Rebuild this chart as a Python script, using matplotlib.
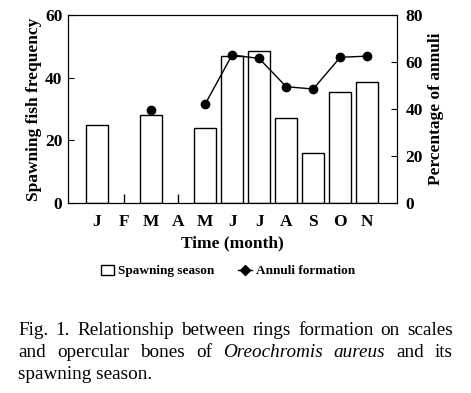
import numpy as np
import matplotlib.pyplot as plt
from matplotlib.lines import Line2D
from matplotlib.patches import Patch

months = ["J", "F", "M", "A", "M", "J", "J", "A", "S", "O", "N"]
spawning = [25, 3, 28, 3, 24, 47, 48.5, 27, 16, 35.5, 38.5]
bar_widths = [0.8, 0, 0.8, 0, 0.8, 0.8, 0.8, 0.8, 0.8, 0.8, 0.8]
annuli = [np.nan, np.nan, 39.5, np.nan, 42, 63, 61.5, 49.5, 48.5, 62, 62.5]

caption = [
    ("Fig. 1. Relationship between rings formation on scales", None),
    ("and opercular bones of", "Oreochromis aureus", "and its"),
    ("spawning season.",),
]

plt.rcParams["font.family"] = ["Liberation Serif", "DejaVu Serif"]

fig = plt.figure(figsize=(4.71, 3.93), dpi=100)
ax = fig.add_axes([68 / 471, 1 - 203 / 393, (397 - 68) / 471, (203 - 15) / 393])
x = np.arange(len(months))

ax.bar(x, spawning, width=bar_widths, facecolor="white", edgecolor="black", linewidth=1.0)
ax.set_xlim(-1.07, 11.1)
ax.set_ylim(0, 60)
ax.set_yticks([0, 20, 40, 60])
ax.set_xticks(x)
ax.set_xticklabels(months)
ax.tick_params(axis="x", length=0, pad=8)
ax.tick_params(axis="y", direction="in", length=4, pad=4)
for lab in ax.get_xticklabels() + ax.get_yticklabels():
    lab.set_fontweight("bold")
    lab.set_fontsize(12.5)
ax.set_ylabel("Spawning fish frequency", fontsize=12.5, fontweight="bold", labelpad=2)
ax.set_xlabel("Time (month)", fontsize=12.5, fontweight="bold", labelpad=4)

ax2 = ax.twinx()
ax2.plot(x, annuli, color="black", linewidth=1.0, marker="o", markersize=6)
ax2.set_ylim(0, 80)
ax2.set_yticks([0, 20, 40, 60, 80])
ax2.tick_params(axis="y", direction="in", length=4, pad=6)
for lab in ax2.get_yticklabels():
    lab.set_fontweight("bold")
    lab.set_fontsize(12.5)
ax2.set_ylabel("Percentage of annuli", fontsize=12.5, fontweight="bold", labelpad=4)

handles = [
    Patch(facecolor="white", edgecolor="black", linewidth=1.0, label="Spawning season"),
    Line2D([], [], color="black", linewidth=1.0, marker="D", markersize=5, label="Annuli formation"),
]
fig.legend(handles=handles, loc="center", bbox_to_anchor=(228 / 471, 1 - 271 / 393),
           ncol=2, frameon=False, prop={"weight": "bold", "size": 9.5},
           handlelength=1.0, handleheight=0.8, columnspacing=1.8, handletextpad=0.35)

# justified caption
renderer = fig.canvas.get_renderer()
left, right = 18, 453
baselines = [335, 357, 379]
size = 13.8


def words_of(line):
    out = []
    for i, part in enumerate(line):
        if part is None:
            continue
        style = "italic" if (len(line) == 3 and i == 1) else "normal"
        for w in part.split():
            out.append((w, style))
    return out


for li, line in enumerate(caption):
    words = words_of(line)
    y = 1 - baselines[li] / 393
    if li == len(caption) - 1:
        fig.text(left / 471, y, " ".join(w for w, _ in words), fontsize=size, va="baseline")
        continue
    texts = [fig.text(0, y, w, fontsize=size, style=s, va="baseline") for w, s in words]
    widths = [t.get_window_extent(renderer).width for t in texts]
    gap = (right - left - sum(widths)) / (len(texts) - 1)
    pos = left
    for t, wd in zip(texts, widths):
        t.set_x(pos / 471)
        pos += wd + gap

fig.savefig("out.png", dpi=100)
